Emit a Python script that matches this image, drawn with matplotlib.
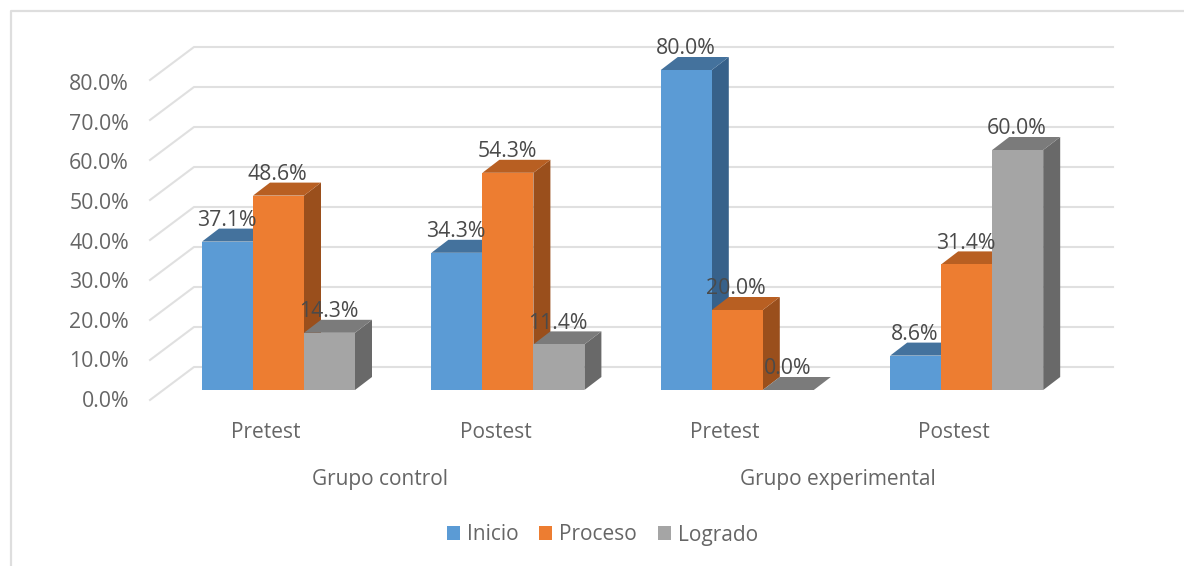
import matplotlib
matplotlib.use('Agg')
import matplotlib.pyplot as plt
from matplotlib.patches import Patch, Polygon

plt.rcParams['font.family'] = ['Open Sans', 'DejaVu Sans']

GROUPS = ['Pretest', 'Postest', 'Pretest', 'Postest']
SUPER_GROUPS = ['Grupo control', 'Grupo experimental']
SERIES = ['Inicio', 'Proceso', 'Logrado']
INICIO = [37.1, 34.3, 80.0, 8.6]
PROCESO = [48.6, 54.3, 20.0, 31.4]
LOGRADO = [14.3, 11.4, 0.0, 60.0]
Y_TICKS = [0, 10, 20, 30, 40, 50, 60, 70, 80]

COLORS_FRONT = ['#5B9BD5', '#ED7D31', '#A5A5A5']
COLORS_TOP = ['#44729D', '#B85F22', '#7B7B7B']
COLORS_SIDE = ['#37618A', '#9A4F1C', '#696969']
COLOR_GRID = '#E0E0E0'
COLOR_TEXT = '#666666'
COLOR_LABEL = '#4A4A4A'

FIG_W, FIG_H = 1184, 566
PX_PER_GROUP = 229.4
PX_PER_PCT = 4.0
X0_PX, Y0_PX = 278.5, 390.0
BAR_W = 51 / PX_PER_GROUP
DEPTH_X = 17 / PX_PER_GROUP
DEPTH_Y = 13 / PX_PER_PCT
FONT = 15.3
FONT_CAT = 15.0


def xu(px):
    return (px - X0_PX) / PX_PER_GROUP


def yu(px):
    return (Y0_PX - px) / PX_PER_PCT


fig = plt.figure(figsize=(FIG_W / 100, FIG_H / 100), dpi=100)
ax = fig.add_axes([0, 0, 1, 1])
ax.set_xlim(xu(0), xu(FIG_W))
ax.set_ylim(yu(FIG_H), yu(0))
ax.axis('off')

# outer frame of the pasted chart, only top and left show
ax.plot([xu(11), xu(11), xu(FIG_W)], [yu(FIG_H), yu(11), yu(11)], color='#DEDEDE', lw=1.6, zorder=1)

# back wall lines with the slanted side wall
wall_front = yu(400)
wall_back = yu(367)
for tick in Y_TICKS:
    ax.plot([xu(150), xu(194), xu(1113)],
            [wall_front + tick, wall_back + tick, wall_back + tick],
            color=COLOR_GRID, lw=1.5, zorder=1)
    ax.text(xu(129), yu(401.5) + tick * 0.99, f'{tick:.1f}%', ha='right', va='center',
            fontsize=FONT, color=COLOR_TEXT, zorder=5)

# 3D bars, left to right so the later ones cover the sides of the earlier ones
all_values = [INICIO, PROCESO, LOGRADO]
for g in range(len(GROUPS)):
    for s, values in enumerate(all_values):
        v = values[g]
        left = g + (s - 1.5) * BAR_W
        right = left + BAR_W
        ax.add_patch(Polygon([(right, 0), (right + DEPTH_X, DEPTH_Y), (right + DEPTH_X, v + DEPTH_Y), (right, v)],
                             facecolor=COLORS_SIDE[s], edgecolor='none', zorder=2 + g * 0.1 + s * 0.01))
        ax.add_patch(Polygon([(left, v), (left + DEPTH_X, v + DEPTH_Y), (right + DEPTH_X, v + DEPTH_Y), (right, v)],
                             facecolor=COLORS_TOP[s], edgecolor='none', zorder=2 + g * 0.1 + s * 0.01))
        ax.bar(left, v, width=BAR_W, align='edge', color=COLORS_FRONT[s], zorder=2 + g * 0.1 + s * 0.011)
        ax.text(left + BAR_W / 2 - 1 / PX_PER_GROUP, v + 21 / PX_PER_PCT, f'{v:.1f}%', ha='center', va='center',
                fontsize=FONT, color=COLOR_LABEL, zorder=6)

# category labels
for g, name in enumerate(GROUPS):
    ax.text(g - 12.5 / PX_PER_GROUP, yu(433), name, ha='center', va='center', fontsize=FONT_CAT, color=COLOR_TEXT)
ax.text(xu(380), yu(480), SUPER_GROUPS[0], ha='center', va='center', fontsize=FONT_CAT, color=COLOR_TEXT)
ax.text(xu(838), yu(480), SUPER_GROUPS[1], ha='center', va='center', fontsize=FONT_CAT, color=COLOR_TEXT)

handles = [Patch(facecolor=c, label=n) for c, n in zip(COLORS_FRONT, SERIES)]
ax.legend(handles=handles, ncol=3, frameon=False, loc='center',
          bbox_to_anchor=(602.5 / FIG_W, 1 - 535 / FIG_H), fontsize=FONT_CAT,
          handlelength=0.62, handleheight=0.62, handletextpad=0.34, columnspacing=1.0,
          labelcolor=COLOR_TEXT)

fig.savefig('out.png', dpi=100)
